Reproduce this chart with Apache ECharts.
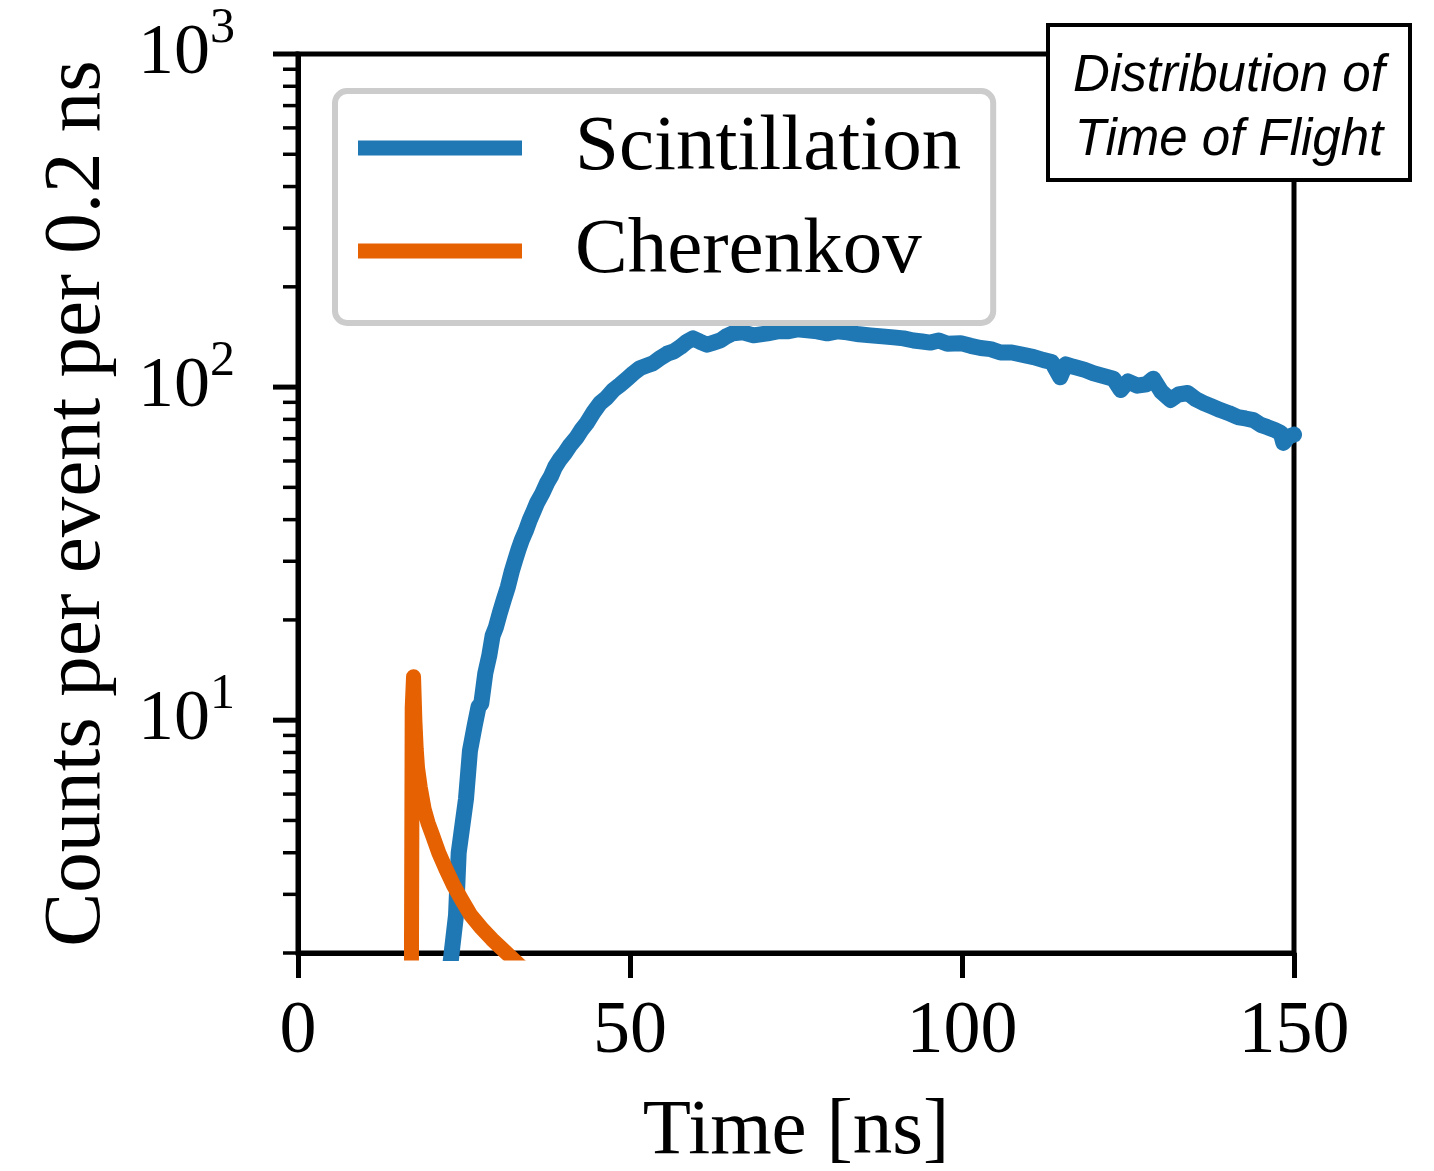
<!DOCTYPE html>
<html>
<head>
<meta charset="utf-8">
<script src="https://cdn.jsdelivr.net/npm/echarts@6/dist/echarts.min.js"></script>
<style>
html,body{margin:0;padding:0;background:#fff;}
#chart{width:1434px;height:1171px;}
</style>
</head>
<body>
<div id="chart"></div>
<script>
// ---- data ----
var seriesNames = ['Scintillation', 'Cherenkov'];
var scinTime = [22.6,23.2,23.8,24.2,24.8,25.3,25.9,26.6,27.2,27.6,28.2,28.8,29.3,29.8,30.4,31.0,31.6,32.2,32.7,33.2,33.7,34.3,34.9,35.5,36.0,36.8,37.5,38.1,38.7,39.4,40.2,41.0,42.0,42.7,43.5,44.5,45.5,46.5,47.5,48.5,49.6,50.5,51.5,52.5,53.5,54.5,55.6,56.6,57.6,58.6,59.5,60.5,61.6,62.6,63.6,64.5,65.5,67.0,68.6,70.7,72.2,73.7,75.2,76.7,78.2,79.7,81.2,82.7,84.5,86.2,88.0,89.7,91.2,92.7,94.0,95.2,96.5,97.8,99.8,101.3,102.8,104.3,105.8,107.5,109.2,110.8,112.3,113.5,114.8,115.6,116.8,118.3,119.8,121.3,122.8,123.9,125.0,126.4,127.8,128.8,130.0,131.4,132.6,134.0,135.2,136.4,137.6,138.9,140.2,141.5,142.7,143.9,145.0,146.0,147.0,148.0,148.4,149.2,150.0];
var scinCounts = [1.6,2.05,2.6,4.0,4.9,5.8,8.1,9.6,11.0,11.2,13.8,15.6,17.9,19.0,21.0,23.0,25.1,28.0,30.2,32.5,34.7,37.0,39.9,42.5,44.9,48.0,51.5,54.0,57.5,60.5,63.4,67.0,70.8,74.5,78.0,84.0,89.5,93.0,98.0,101.5,106,110,114,116,118,122,126,128,132,137,140,137,134,136,138,142,145,146,143,145,147,147,149,148,147,145,147,146,144,143,142,141,140,138,137,136,138,135,135.5,133,131,130,127,127,125,123,120.5,119,107,117,115,113,110,108,106,98,104,101,102,106,97,91.5,95,96,92,89.5,87.5,85.3,83.5,81.3,80.5,79.6,77,75.8,74.5,72.8,68,71,72];
var cherTime = [17.0,17.2,17.4,17.6,17.8,18.0,18.4,19.0,19.6,20.2,21.2,22.2,23.4,24.6,26.0,27.6,29.2,30.6,32.0,33.6,35.0];
var cherCounts = [0.5,10.9,13.5,10.0,8.2,7.2,6.3,5.4,4.9,4.55,4.0,3.6,3.2,2.9,2.6,2.38,2.2,2.07,1.95,1.82,1.72];
var xTicks = [0, 50, 100, 150];
var yMajorTicks = [10, 100, 1000];
var yMinorTicks = [2,3,4,5,6,7,8,9,20,30,40,50,60,70,80,90,200,300,400,500,600,700,800,900];
var xAxisTitle = 'Time [ns]';
var yAxisTitle = 'Counts per event per 0.2 ns';
var boxText = 'Distribution of\nTime of Flight';

// ---- chart ----
function pairs(xs, ys){ return xs.map(function(x,i){ return [x, ys[i]]; }); }
var tickData = yMajorTicks.map(function(v){return [xTicks[0], v, 1];})
  .concat(yMinorTicks.map(function(v){return [xTicks[0], v, 0];}));

var serif = 'Liberation Serif';
var chart = echarts.init(document.getElementById('chart'), null, {renderer:'canvas'});
chart.setOption({
  animation: false,
  backgroundColor: '#fff',
  grid: {left: 298, right: 140, top: 54, bottom: 218, show: true, borderColor: '#000', borderWidth: 5,
         backgroundColor: 'transparent', containLabel: false, outerBoundsMode: 'none'},
  xAxis: {
    type: 'value', min: xTicks[0], max: xTicks[xTicks.length-1], interval: 50,
    name: xAxisTitle, nameLocation: 'middle', nameGap: 140,
    nameTextStyle: {fontFamily: serif, fontSize: 79, color: '#000'},
    axisLine: {show: true, lineStyle: {color: '#000', width: 5}},
    axisTick: {show: true, inside: false, length: 25, lineStyle: {color: '#000', width: 5}},
    axisLabel: {margin: 43, fontFamily: serif, fontSize: 74, color: '#000'},
    splitLine: {show: false}
  },
  yAxis: {
    type: 'log', logBase: 10, min: 2, max: 1000,
    name: yAxisTitle, nameLocation: 'middle', nameGap: 180,
    nameTextStyle: {fontFamily: serif, fontSize: 81, color: '#000'},
    axisLine: {show: true, lineStyle: {color: '#000', width: 5}},
    axisTick: {show: false},
    axisLabel: {
      margin: 63,
      formatter: function(v){
        var e = Math.log10(v);
        if (Math.abs(e - Math.round(e)) > 1e-6) return '';
        return '{b|10}{s|' + Math.round(e) + '}';
      },
      rich: {
        b: {fontFamily: serif, fontSize: 72, color: '#000', lineHeight: 72, verticalAlign: 'bottom', padding: [8,0,0,0]},
        s: {fontFamily: serif, fontSize: 50, color: '#000', lineHeight: 50, padding: [8,0,36,0], verticalAlign: 'bottom'}
      }
    },
    splitLine: {show: false},
    minorTick: {show: false}
  },
  legend: {
    data: seriesNames, orient: 'vertical', left: 335, top: 91,
    icon: 'rect', itemWidth: 164, itemHeight: 15, itemGap: 23,
    padding: [17, 32, 32, 23],
    backgroundColor: '#fff', borderColor: '#cccccc', borderWidth: 6, borderRadius: 12,
    textStyle: {fontFamily: serif, fontSize: 79, color: '#000', lineHeight: 60, width: 385, padding: [20,0,0,48]}
  },
  series: [
    {name: seriesNames[0], type: 'line', data: pairs(scinTime, scinCounts), showSymbol: false, symbol: 'none',
     color: '#1f77b4', lineStyle: {width: 16, color: '#1f77b4', cap: 'round', join: 'round'}, clip: true, z: 2},
    {name: seriesNames[1], type: 'line', data: pairs(cherTime, cherCounts), showSymbol: false, symbol: 'none',
     color: '#e66101', lineStyle: {width: 15, color: '#e66101', cap: 'round', join: 'round'}, clip: true, z: 3},
    {type: 'custom', data: tickData, silent: true, clip: false, z: 5,
     renderItem: function(params, api){
       var p = api.coord([api.value(0), api.value(1)]);
       var major = api.value(2) === 1;
       var len = major ? 25 : 15;
       return {type: 'line', shape: {x1: p[0]-len, y1: p[1], x2: p[0], y2: p[1]},
               style: {stroke: '#000', lineWidth: major ? 5 : 3.5}};
     }}
  ],
  graphic: [
    {type: 'rect', z: 100, shape: {x: 1048, y: 25, width: 362, height: 155},
     style: {fill: '#fff', stroke: '#000', lineWidth: 4}},
    {type: 'text', z: 101, x: 1229, y: 109,
     style: {text: boxText, align: 'center', verticalAlign: 'middle',
             font: 'italic 51px "Liberation Sans"', lineHeight: 64, fill: '#000'}}
  ]
});
</script>
</body>
</html>
